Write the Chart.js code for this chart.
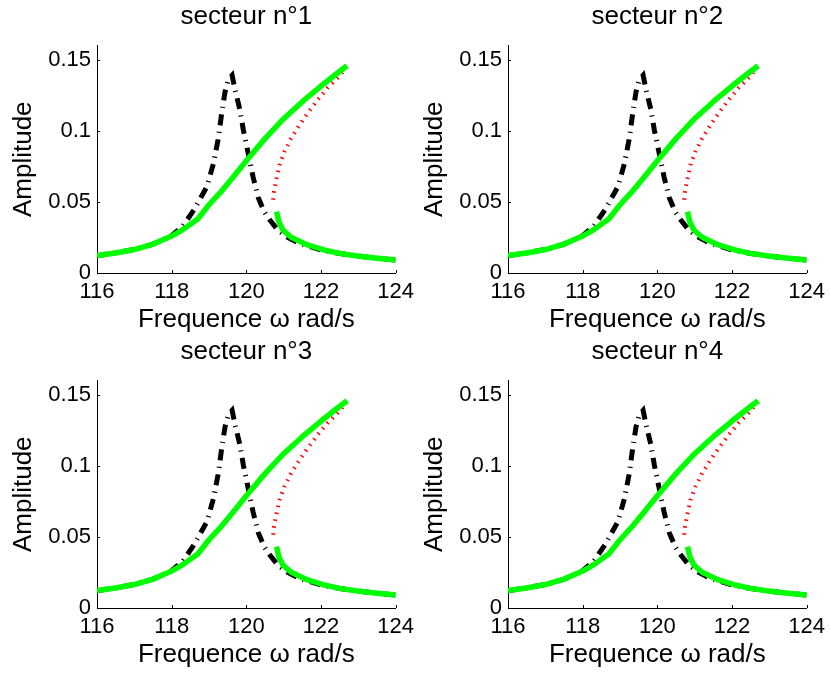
<!DOCTYPE html>
<html>
<head>
<meta charset="utf-8">
<script src="https://cdn.jsdelivr.net/npm/chart.js@4.4.1/dist/chart.umd.min.js"></script>
<style>
  html, body { margin: 0; padding: 0; background: #fff; width: 831px; height: 673px; overflow: hidden; }
  canvas { position: absolute; }
</style>
</head>
<body>
<canvas id="c1"></canvas>
<canvas id="c2"></canvas>
<canvas id="c3"></canvas>
<canvas id="c4"></canvas>
<script>
// ---- data ----
const panelTitles = ['secteur n\u00b01', 'secteur n\u00b02', 'secteur n\u00b03', 'secteur n\u00b04'];
const xAxisTitle = 'Frequence \u03c9 rad/s';
const yAxisTitle = 'Amplitude';
const xTicks = [116, 118, 120, 122, 124];
const yTicks = [0, 0.05, 0.1, 0.15];
const yTickLabels = ['0', '0.05', '0.1', '0.15'];

// linear response (black dash-dot)
const linFreq = [116.0, 116.5, 117.0, 117.5, 118.0, 118.3, 118.6, 118.95, 119.12, 119.25, 119.34, 119.43, 119.52, 119.62,
                 119.70, 119.83, 119.92, 120.05, 120.18, 120.32, 120.48, 120.63, 120.85, 121.11, 121.4, 121.64, 122.0,
                 122.5, 123.0, 123.5, 124.0];
const linAmp  = [0.0122, 0.0141, 0.0165, 0.0203, 0.0262, 0.0330, 0.0445, 0.0610, 0.0771, 0.0947, 0.1123, 0.1275, 0.1360, 0.1390,
                 0.1287, 0.1146, 0.1006, 0.0842, 0.0677, 0.0530, 0.0430, 0.0373, 0.0300, 0.0250, 0.0212, 0.0190, 0.0163,
                 0.0137, 0.0119, 0.0104, 0.0092];

// nonlinear stable branch rising (green)
const upperFreq = [116.0, 116.5, 117.0, 117.5, 118.0, 118.3, 118.7, 119.0, 119.3, 119.6, 120.0, 120.5, 121.0, 121.5,
                   122.0, 122.4, 122.7];
const upperAmp  = [0.0122, 0.0141, 0.0165, 0.0203, 0.0260, 0.0305, 0.0380, 0.0480, 0.0565, 0.0660, 0.0790, 0.0945, 0.1085, 0.1205,
                   0.1315, 0.1398, 0.1458];

// unstable branch (red dotted)
const unstableFreq = [122.70, 122.44, 122.17, 121.91, 121.64, 121.42, 121.20, 121.02, 120.89, 120.80, 120.74, 120.71];
const unstableAmp  = [0.1450, 0.1370, 0.1300, 0.1217, 0.1123, 0.1040, 0.0947, 0.0853, 0.0760, 0.0654, 0.0570, 0.0490];

// nonlinear stable branch falling (green)
const lowerFreq = [120.81, 120.87, 120.98, 121.2, 121.64, 122.08, 122.5, 122.97, 123.5, 124.0];
const lowerAmp  = [0.0431, 0.0360, 0.0302, 0.0251, 0.0197, 0.0162, 0.0138, 0.0120, 0.0104, 0.0091];

// ---- helpers ----
const pts = (xs, ys) => xs.map((x, i) => ({ x: x, y: ys[i] }));
const FONT = "'Liberation Sans', Arial, Helvetica, sans-serif";
const CW = 420, CH = 336;
const TICK = 3;

const inwardTicks = {
  id: 'inwardTicks',
  afterDatasetsDraw(chart) {
    const { ctx, chartArea, scales } = chart;
    const xs = scales.x, ys = scales.y;
    ctx.save();
    ctx.strokeStyle = '#000';
    ctx.lineWidth = 1;
    ctx.beginPath();
    xs.ticks.forEach(t => {
      const px = Math.round(xs.getPixelForValue(t.value)) + 0.5;
      ctx.moveTo(px, chartArea.bottom);
      ctx.lineTo(px, chartArea.bottom - TICK);
    });
    ys.ticks.forEach(t => {
      const py = Math.round(ys.getPixelForValue(t.value)) + 0.5;
      ctx.moveTo(chartArea.left, py);
      ctx.lineTo(chartArea.left + TICK, py);
    });
    ctx.stroke();
    ctx.restore();
  }
};

const positions = [[0, 0], [411, 0], [0, 335], [411, 335]];

panelTitles.forEach((title, k) => {
  const cv = document.getElementById('c' + (k + 1));
  cv.width = CW; cv.height = CH;
  cv.style.width = CW + 'px'; cv.style.height = CH + 'px';
  cv.style.left = positions[k][0] + 'px';
  cv.style.top = positions[k][1] + 'px';

  new Chart(cv, {
    type: 'line',
    data: {
      datasets: [
        { data: pts(upperFreq, upperAmp), borderColor: '#00ff00', borderWidth: 5.5, pointRadius: 0, tension: 0, order: 1, borderJoinStyle: 'round' },
        { data: pts(lowerFreq, lowerAmp), borderColor: '#00ff00', borderWidth: 5.5, pointRadius: 0, tension: 0, order: 1, borderJoinStyle: 'round' },
        { data: pts(unstableFreq, unstableAmp), borderColor: '#ff0000', borderWidth: 4, borderDash: [1.5, 5.5], pointRadius: 0, tension: 0, order: 2 },
        { data: pts(linFreq, linAmp), borderColor: '#000000', borderWidth: 5, borderDash: [11, 6.5, 1.2, 6.5], pointRadius: 0, tension: 0, order: 3 }
      ]
    },
    options: {
      responsive: false,
      animation: false,
      devicePixelRatio: 1,
      events: [],
      layout: { padding: { left: 0, top: 0, right: CW - 398.5, bottom: 0 } },
      plugins: {
        legend: { display: false },
        tooltip: { enabled: false },
        title: {
          display: true,
          text: title,
          fullSize: false,
          color: '#000',
          font: { family: FONT, size: 26, weight: 'normal', lineHeight: 1.2 },
          padding: { top: 1.4, bottom: 12.9 }
        }
      },
      scales: {
        x: {
          type: 'linear',
          min: 116, max: 124,
          afterBuildTicks: s => { s.ticks = xTicks.map(v => ({ value: v })); },
          afterFit: s => { s.height = CH - 273; },
          grid: { display: false, drawTicks: false },
          border: { display: true, color: '#000', width: 1 },
          ticks: {
            padding: 6, color: '#000', maxRotation: 0, autoSkip: false,
            font: { family: FONT, size: 22, lineHeight: 1.2 },
            callback: (v, i) => String(xTicks[i])
          },
          title: {
            display: true, text: xAxisTitle, color: '#000',
            font: { family: FONT, size: 26, lineHeight: 1.2 },
            padding: { top: 0, bottom: 1 }
          }
        },
        y: {
          type: 'linear',
          min: 0, max: 0.16,
          afterBuildTicks: s => { s.ticks = yTicks.map(v => ({ value: v })); },
          afterFit: s => { s.width = 97; },
          grid: { display: false, drawTicks: false },
          border: { display: true, color: '#000', width: 1 },
          ticks: {
            padding: 6, color: '#000', autoSkip: false,
            font: { family: FONT, size: 22, lineHeight: 1.2 },
            callback: (v, i) => yTickLabels[i]
          },
          title: {
            display: true, text: yAxisTitle, color: '#000',
            font: { family: FONT, size: 26, lineHeight: 1.2 },
            padding: { top: 8, bottom: 0 }
          }
        }
      }
    },
    plugins: [inwardTicks]
  });
});
</script>
</body>
</html>
